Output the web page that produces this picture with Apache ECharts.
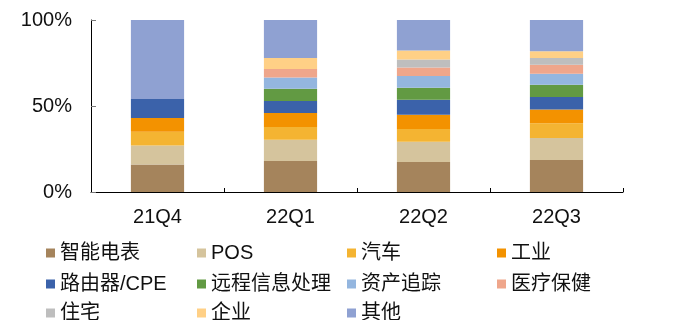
<!DOCTYPE html>
<html>
<head>
<meta charset="utf-8">
<script src="https://cdn.jsdelivr.net/npm/echarts@6/dist/echarts.min.js"></script>
<style>
  html, body { margin: 0; padding: 0; background: #fff; }
  #chart { width: 675px; height: 320px; }
</style>
</head>
<body>
<div id="chart"></div>
<script>
// Quarterly share of shipments by application (percent of total)
const quarters = ['21Q4', '22Q1', '22Q2', '22Q3'];
const yTicks = [0, 50, 100];

const smartMeter = [16, 18, 17.4, 18.6];
const pos = [11, 12.4, 11.8, 12.8];
const auto = [8, 7.4, 7.4, 8.5];
const industrial = [8, 8.1, 8.3, 8.1];
const router = [11, 7.0, 8.7, 7.2];
const telematics = [0, 7.2, 7.0, 7.2];
const assetTracking = [0, 6.4, 6.8, 6.4];
const healthcare = [0, 5.0, 5.0, 5.2];
const residential = [0, 0, 4.7, 3.9];
const enterprise = [0, 6.4, 5.2, 3.9];
const others = [46, 22.1, 17.7, 18.2];

const seriesDefs = [
  { name: '智能电表', data: smartMeter, color: '#A5845C' },
  { name: 'POS', data: pos, color: '#D5C49D' },
  { name: '汽车', data: auto, color: '#F4B432' },
  { name: '工业', data: industrial, color: '#F39200' },
  { name: '路由器/CPE', data: router, color: '#3B62AA' },
  { name: '远程信息处理', data: telematics, color: '#629A43' },
  { name: '资产追踪', data: assetTracking, color: '#94B6DF' },
  { name: '医疗保健', data: healthcare, color: '#EFA68B' },
  { name: '住宅', data: residential, color: '#BEBEBE' },
  { name: '企业', data: enterprise, color: '#FFD086' },
  { name: '其他', data: others, color: '#8FA1D2' }
];

// Legend grid: four columns, three rows, filled row by row
const legendColX = [46, 197, 347, 497];
const legendRowY = [254, 285, 314];

const textFont = '"Liberation Sans", Arial, "Noto Sans CJK SC", sans-serif';

const legends = seriesDefs.map((s, i) => ({
  data: [s.name],
  left: legendColX[i % 4],
  top: legendRowY[Math.floor(i / 4)] - 11,
  padding: 0,
  itemWidth: 9,
  itemHeight: 9,
  icon: 'rect',
  selectedMode: false,
  textStyle: { fontSize: 20, color: '#111', fontFamily: textFont }
}));

const chart = echarts.init(document.getElementById('chart'), null, { renderer: 'canvas' });

chart.setOption({
  animation: false,
  color: seriesDefs.map(s => s.color),
  grid: { left: 91, right: 52, top: 20, bottom: 128 },
  legend: legends,
  xAxis: {
    type: 'category',
    data: quarters,
    axisLine: { lineStyle: { color: '#000', width: 1 } },
    axisTick: { show: true, inside: true, length: 4, lineStyle: { color: '#000' } },
    axisLabel: { fontSize: 20, color: '#111', margin: 15, fontFamily: textFont }
  },
  yAxis: {
    type: 'value',
    min: yTicks[0],
    max: yTicks[yTicks.length - 1],
    interval: 50,
    splitLine: { show: false },
    axisLine: { show: true, lineStyle: { color: '#000', width: 1 } },
    axisTick: { show: true, inside: true, length: 5, lineStyle: { color: '#777' } },
    axisLabel: { fontSize: 20, color: '#111', margin: 19, fontFamily: textFont, formatter: '{value}%' }
  },
  series: seriesDefs.map(s => ({
    name: s.name,
    type: 'bar',
    stack: 'total',
    barWidth: '40%',
    data: s.data,
    itemStyle: { color: s.color }
  }))
});
</script>
</body>
</html>
